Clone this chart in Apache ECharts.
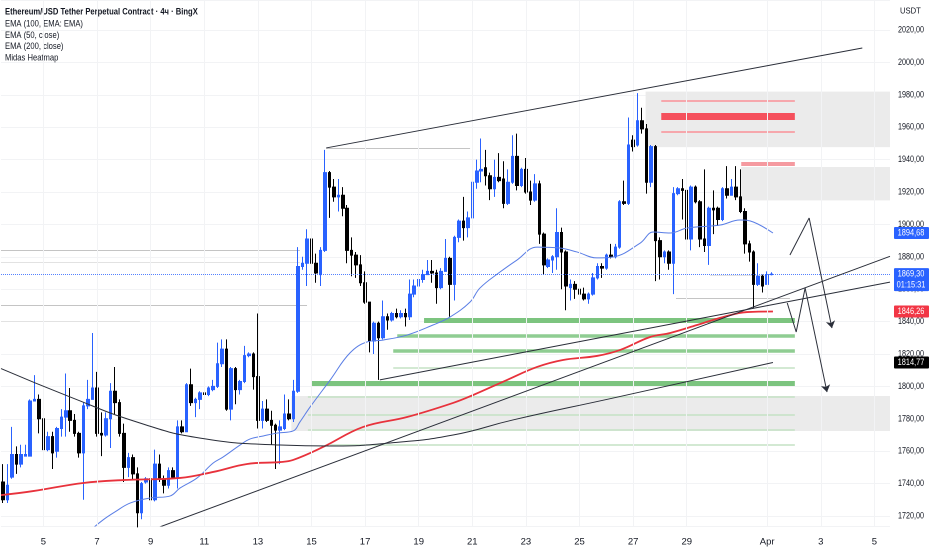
<!DOCTYPE html>
<html><head><meta charset="utf-8">
<script src="https://cdn.jsdelivr.net/npm/echarts@6/dist/echarts.min.js"></script>
<style>html,body{margin:0;padding:0;background:#fff}#c{width:932px;height:550px}</style>
</head><body><div id="c"></div>
<script>
// ---- data ----
const candleStart = '2025-03-03T12:00:00Z'; // first candle, 4h step
const openP = [1741,1730,1744,1758,1752,1757,1757,1791,1792,1780,1761,1769,1760,1774,1781,1785,1779,1771,1759,1788,1792,1799,1771,1770,1780,1797,1790,1771,1750,1756,1746,
1722,1741,1743,1730,1752,1743,1739,1748,1744,1775,1772,1801,1790,1792,1796,1795,1798,1800,1814,1823,1786,1811,1798,1803,1819,1820,1806,1779,1786,1779,1776,1773,1774,1783,1780,1797,1874,
1876,1891,1876,1869,1884,1932,1923,1917,1918,1910,1884,1881,1875,1864,1852,1828,1839,1830,1843,1841,1845,1843,1845,1843,1857,1862,1866,1869,1871,1870,1861,1871,1879,1863,1892,1902,1898,
1904,1926,1933,1935,1930,1922,1929,1928,1913,1926,1942,1924,1934,1920,1915,1925,1894,1874,1878,1880,1895,1883,1861,1863,1860,1857,1854,1857,1867,1874,1873,1881,1880,1886,1914,
1913,1952,1949,1964,1959,1926,1948,1890,1880,1883,1876,1919,1922,1921,1891,1923,1914,1891,1887,1910,1910,1903,1922,1918,1923,1917,1908,1888,1883,1863,1868,1863,1869];
const closeP = [1730,1739,1758,1752,1758,1758,1791,1792,1780,1761,1769,1759,1774,1781,1785,1779,1771,1759,1788,1792,1799,1771,1770,1780,1797,1790,1771,1750,1756,1746,1722,
1740,1743,1730,1752,1743,1739,1748,1744,1775,1772,1801,1790,1792,1796,1795,1799,1800,1814,1823,1786,1811,1798,1803,1819,1820,1806,1779,1786,1779,1776,1773,1775,1783,1780,1797,1874,1876,
1891,1876,1870,1884,1932,1923,1917,1918,1910,1884,1881,1875,1864,1852,1828,1839,1830,1843,1841,1845,1843,1845,1843,1857,1862,1866,1869,1871,1870,1861,1871,1879,1863,1892,1902,1898,1904,
1926,1933,1934,1930,1922,1929,1927,1913,1926,1942,1924,1934,1920,1915,1925,1894,1875,1878,1880,1895,1883,1862,1863,1860,1857,1854,1857,1867,1874,1873,1881,1880,1886,1914,1913,
1949,1948,1964,1959,1926,1948,1890,1880,1883,1876,1919,1922,1921,1891,1923,1914,1891,1887,1910,1909,1903,1922,1918,1923,1917,1908,1888,1883,1863,1868,1862,1869,1869.3];
const highP = [1752,1752,1775,1763,1764,1764,1792,1807,1795,1781,1772,1772,1775,1786,1808,1799,1783,1772,1790,1804,1833,1809,1784,1784,1802,1812,1792,1777,1759,1758,1750,
1741,1744,1756,1761,1758,1745,1750,1750,1779,1779,1802,1811,1793,1797,1797,1800,1804,1827,1829,1829,1812,1812,1804,1825,1821,1821,1845,1791,1792,1785,1777,1779,1795,1792,1804,1886,1880,
1897,1892,1882,1886,1946,1933,1928,1928,1923,1912,1892,1883,1881,1871,1852,1840,1840,1853,1845,1846,1848,1847,1848,1866,1866,1877,1872,1878,1878,1872,1873,1891,1880,1893,1903,1917,1908,
1927,1940,1953,1946,1932,1940,1944,1939,1934,1955,1956,1935,1941,1927,1931,1927,1895,1879,1881,1910,1898,1884,1866,1865,1864,1861,1858,1870,1876,1876,1882,1888,1888,1915,1927,
1966,1955,1981,1972,1962,1949,1949,1892,1884,1884,1923,1923,1928,1928,1924,1924,1915,1934,1911,1921,1911,1923,1936,1928,1936,1934,1910,1890,1884,1876,1869,1871,1870.5];
const lowP = [1728,1728,1743,1746,1750,1757,1757,1791,1771,1757,1760,1749,1756,1769,1769,1772,1769,1756,1730,1786,1792,1769,1757,1769,1762,1783,1769,1741,1744,1742,1713,
1718,1740,1721,1729,1741,1734,1737,1743,1737,1771,1772,1788,1781,1786,1786,1794,1797,1799,1812,1785,1779,1789,1795,1802,1818,1798,1774,1774,1778,1764,1749,1752,1773,1779,1778,1796,1872,
1862,1864,1864,1862,1883,1904,1914,1908,1905,1876,1868,1867,1862,1851,1821,1820,1804,1829,1835,1840,1842,1842,1837,1841,1855,1861,1864,1869,1864,1851,1860,1871,1843,1853,1889,1890,1892,
1890,1922,1926,1924,1915,1917,1926,1910,1912,1925,1921,1923,1919,1912,1914,1888,1869,1873,1870,1872,1860,1847,1853,1854,1852,1853,1851,1856,1866,1867,1872,1879,1879,1885,1912,
1912,1945,1948,1956,1919,1923,1865,1866,1876,1872,1857,1918,1903,1890,1884,1913,1886,1883,1875,1894,1899,1902,1916,1918,1915,1907,1882,1877,1848,1862,1858,1863,1868.5];

// EMA readings: [candle index, price]
const ema50 = [[19.0,1710],[22.3,1717.5],[25.0,1722.5],[28.4,1728.0],[32.9,1731.1],[37.3,1732.3],[39.6,1737.3],[43.4,1743.5],[47.0,1752.7],[49.2,1756.4],[53.0,1763.8],[55.2,1767.5],[58.2,1769.4],[61.3,1771.2],[64.9,1772.5],[66.4,1778.0],[68.7,1787.3],[73.2,1804.0],[77.6,1820.6],[81.4,1827.4],[85.0,1828.6],[90.4,1831.7],[96.2,1837.9],[100.0,1842.8],[104.5,1852.1],[106.7,1860.7],[111.2,1870.6],[115.0,1878.0],[119.5,1886.0],[124.6,1885.4],[128.4,1883.0],[132.9,1879.3],[136.5,1879.9],[142.6,1888.5],[145.5,1895.3],[149.3,1894.7],[153.1,1897.8],[160.5,1899.6],[164.9,1902.7],[167.9,1901.5],[172.3,1894.68]];
const ema200 = [[-0.5,1732.9],[6.7,1735.4],[17.9,1740.4],[26.8,1742.2],[39.6,1743.5],[47.0,1747.2],[54.6,1752.1],[62.0,1753.3],[64.9,1754.6],[71.6,1762.6],[80.5,1774.9],[90.4,1781.1],[100.7,1789.8],[105.2,1794.7],[112.8,1804.0],[119.5,1812.0],[125.3,1816.3],[132.9,1818.8],[138.1,1822.5],[144.8,1830.5],[149.3,1833.0],[155.3,1837.9],[161.1,1842.8],[166.5,1845.9],[172.3,1846.26]];

const xTickDates = ['2025-03-05','2025-03-07','2025-03-09','2025-03-11','2025-03-13','2025-03-15','2025-03-17','2025-03-19','2025-03-21','2025-03-23','2025-03-25','2025-03-27','2025-03-29','2025-04-01','2025-04-03','2025-04-05'];
const xTickLabels = ['5','7','9','11','13','15','17','19','21','23','25','27','29','Apr','3','5'];
const yTickValues = [1720,1740,1760,1780,1800,1820,1840,1860,1880,1900,1920,1940,1960,1980,2000,2020];

// heatmap: [startIdx, endIdx, price, strength]
const greenLevels = [[94.2,177.2,1841.0,3],[88.2,177.2,1831.1,2],[87.3,177.2,1821.9,2],[87.3,177.2,1811.8,1],[69.1,177.2,1802.1,3],[68.2,177.2,1793.4,1],[68.2,177.2,1782.8,1],[68.2,177.2,1773.1,1],[73.2,177.2,1763.8,1]];
const redLevels = [[147.3,177.2,1976.2,1],[147.3,177.2,1966.6,3],[147.3,177.2,1956.9,1],[165.2,177.2,1937.6,2]];
const grayLevels = [[-0.5,66.4,1884.2,2],[-0.5,66.4,1876.8,1],[-0.5,68.0,1850.2,2],[-0.5,30.6,1840.0,1],[72.3,104.5,1947.2,2],[150.6,176.1,1854.6,2],[158.2,171.4,1868.8,1]];
// zones: [startIdx, endIdx, lowPrice, highPrice]
const grayZones = [[143.8,198.5,1947.7,1982.0],[165.2,198.5,1914.8,1935.4],[64.5,198.5,1772.5,1794.1]];

// drawings
const channelTop = [[72.3,1947.2],[192.3,2008.9]];
const channelLow = [[84.3,1804.0],[198.5,1864.4]];
const trendRise = [[34.4,1712.6],[198.5,1880.3]];
const arcPts = [[-0.5,1811.0],[14.95,1793.5],[30.6,1777.4],[44.1,1768.1],[62.0,1763.8],[73.2,1763.2],[86.6,1765.1],[100.7,1770.0],[114.1,1779.3],[136.5,1792.8],[172.3,1814.77]];
const path1 = [[176.1,1881.1],[180.4,1904.0],[185.5,1836.0]];
const path2 = [[175.5,1851.5],[177.5,1833.6],[179.5,1860.7],[184.4,1796.5]];

const lastPrice = 1869.30;
const tagValues = [1894.68, 1869.30, 1846.26, 1814.77];
const countdown = '01:15:31';

const legendLines = ['Ethereum/USD Tether Perpetual Contract · 4ч · BingX','EMA (100, EMA: EMA)','EMA (50, close)','EMA (200, close)','Midas Heatmap'];

// ---- chart ----
const t0 = Date.parse(candleStart);
const tickIdx = xTickDates.map(d => (Date.parse(d + 'T00:00:00Z') - t0) / 14400000);
const candles = openP.map((o, i) => [i, o, closeP[i], lowP[i], highP[i]]);
const fmt = v => v.toFixed(2).replace('.', ',');

const levelStyle = {
  green: {3: ['#7cc47f', 5], 2: ['#8fcd92', 3.5], 1: ['#c5e2c5', 1.5]},
  red: {3: ['#f5505c', 7], 2: ['#f59aa0', 4], 1: ['#f6a7ac', 2]},
  gray: {2: ['#c4c4c4', 1], 1: ['#e2e2e2', 1]}
};
function levelItems(arr, kind) {
  return arr.map(l => {
    const s = levelStyle[kind][l[3]];
    return {coords: [[l[0], l[2]], [l[1], l[2]]], lineStyle: {color: s[0], width: s[1], opacity: 1, type: 'solid'}};
  });
}

const FONT = "'Liberation Sans',Arial,sans-serif";
const chart = echarts.init(document.getElementById('c'), null, {renderer: 'canvas', devicePixelRatio: 2});
const lineBase = {type: 'line', showSymbol: false, symbol: 'none', silent: true, animation: false};

chart.setOption({
  animation: false,
  backgroundColor: '#ffffff',
  grid: {left: 1, right: 42, top: 0, bottom: 24, containLabel: false, outerBoundsMode: 'none'},
  xAxis: {
    type: 'value', min: -0.5, max: 198.5,
    axisLine: {show: false}, axisTick: {show: false}, splitLine: {show: false},
    axisLabel: {
      customValues: tickIdx, margin: 11, color: '#131722', fontSize: 9.5, fontFamily: FONT,
      formatter: v => { const k = tickIdx.findIndex(t => Math.abs(t - v) < 0.01); return k >= 0 ? xTickLabels[k] : ''; }
    }
  },
  yAxis: {
    type: 'value', position: 'right', min: 1713.83, max: 2038.52, splitNumber: 16,
    axisLine: {show: false}, axisTick: {show: false},
    splitLine: {show: true, lineStyle: {color: '#f2f3f5', width: 1}},
    axisLabel: {show: false}
  },
  series: [
    Object.assign({}, lineBase, {
      name: 'zones', data: [], z: 1,
      markArea: {silent: true, itemStyle: {color: '#ebebeb', opacity: 1},
        data: grayZones.map(z => [{coord: [z[0], z[3]]}, {coord: [z[1], z[2]]}])},
      markLine: {silent: true, symbol: 'none', label: {show: false}, animation: false,
        lineStyle: {color: '#f2f3f5', width: 1, type: 'solid'},
        data: tickIdx.map(t => ({xAxis: t}))}
    }),
    {type: 'lines', coordinateSystem: 'cartesian2d', silent: true, z: 2, animation: false,
      data: levelItems(grayLevels, 'gray').concat(levelItems(greenLevels, 'green'), levelItems(redLevels, 'red'))},
    {type: 'candlestick', name: 'ETHUSDT', data: candles, z: 3, barWidth: 3, silent: true, animation: false,
      itemStyle: {color: '#2962ff', color0: '#000000', borderColor: '#2962ff', borderColor0: '#000000', borderWidth: 1},
      markLine: {silent: true, symbol: 'none', label: {show: false}, animation: false,
        lineStyle: {color: '#2962ff', width: 1, type: 'dotted', opacity: 0.8},
        data: [{yAxis: lastPrice}]}
    },
    Object.assign({}, lineBase, {name: 'EMA (50, close)', data: ema50, smooth: 0.4, z: 4,
      lineStyle: {color: '#5a7ee6', width: 1}}),
    Object.assign({}, lineBase, {name: 'EMA (200, close)', data: ema200, smooth: 0.4, z: 4,
      lineStyle: {color: '#e8323c', width: 1.8}}),
    Object.assign({}, lineBase, {data: channelTop, z: 5, lineStyle: {color: '#2a2e39', width: 1}}),
    Object.assign({}, lineBase, {data: channelLow, z: 5, lineStyle: {color: '#2a2e39', width: 1}}),
    Object.assign({}, lineBase, {data: trendRise, z: 5, lineStyle: {color: '#2a2e39', width: 1}}),
    Object.assign({}, lineBase, {data: arcPts, z: 5, smooth: 0.5, lineStyle: {color: '#2a2e39', width: 1}}),
    Object.assign({}, lineBase, {data: path1.slice(0, 2), z: 5, lineStyle: {color: '#2a2e39', width: 1}}),
    Object.assign({}, lineBase, {data: path2.slice(0, 3), z: 5, lineStyle: {color: '#2a2e39', width: 1}}),
    {type: 'lines', coordinateSystem: 'cartesian2d', silent: true, z: 5, animation: false,
      symbol: ['none', 'arrow'], symbolSize: [0, 7],
      lineStyle: {color: '#2a2e39', width: 1, opacity: 1},
      data: [{coords: [path1[1], path1[2]]}, {coords: [path2[2], path2[3]]}]}
  ]
});

// overlay texts: legend, price scale labels, price tags
const gfx = [];
legendLines.forEach((t, i) => {
  gfx.push({type: 'text', x: 5, y: i === 0 ? 12 : 24 + (i - 1) * 11.3, scaleX: 0.82, silent: true,
    style: {text: t, fontSize: 9.3, fontFamily: FONT, fontWeight: i === 0 ? 'bold' : 'normal',
      fill: '#131722', align: 'left', verticalAlign: 'middle'}});
});
gfx.push({type: 'text', x: 900, y: 11, scaleX: 0.9, silent: true,
  style: {text: 'USDT', fontSize: 8.5, fontFamily: FONT, fill: '#131722', align: 'left', verticalAlign: 'middle'}});
yTickValues.forEach(v => {
  const y = chart.convertToPixel({yAxisIndex: 0}, v);
  gfx.push({type: 'text', x: 911, y: y, scaleX: 0.8, silent: true, z: 5,
    style: {text: fmt(v), fontSize: 9, fontFamily: FONT, fill: '#131722', align: 'center', verticalAlign: 'middle'}});
});
const tagColors = ['#2962ff', '#2962ff', '#f23645', '#000000'];
tagValues.forEach((v, i) => {
  const y = chart.convertToPixel({yAxisIndex: 0}, v);
  const two = (v === lastPrice);
  gfx.push({type: 'rect', silent: true, shape: {x: 894, y: y - 6, width: 35, height: two ? 23 : 12, r: 1},
    style: {fill: tagColors[i]}, z: 10});
  gfx.push({type: 'text', silent: true, x: 911, y: y, scaleX: 0.82, z: 11,
    style: {text: fmt(v), fontSize: 9, fontFamily: FONT, fill: '#ffffff', align: 'center', verticalAlign: 'middle'}});
  if (two) gfx.push({type: 'text', silent: true, x: 911, y: y + 11, scaleX: 0.82, z: 11,
    style: {text: countdown, fontSize: 9, fontFamily: FONT, fill: '#ffffff', align: 'center', verticalAlign: 'middle'}});
});
chart.setOption({graphic: gfx});
</script>
</body></html>
